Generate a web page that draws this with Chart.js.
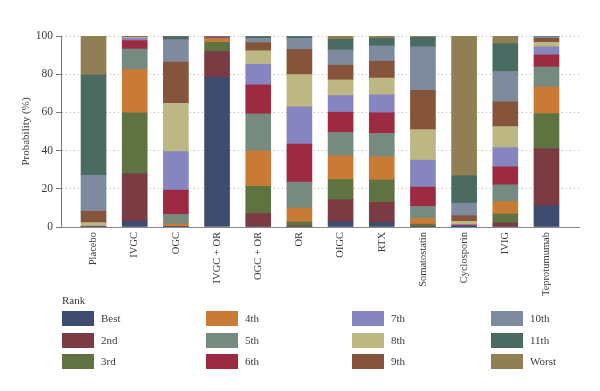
<!DOCTYPE html>
<html>
<head>
<meta charset="utf-8">
<script src="https://cdn.jsdelivr.net/npm/chart.js@4/dist/chart.umd.min.js"></script>
<style>
  body { margin: 0; background: #fff; }
  #wrap { position: relative; width: 600px; height: 391px; }
  #legend { position: absolute; left: 0; top: 0; width: 600px; height: 391px; pointer-events: none;
            font-family: "Liberation Serif", "DejaVu Serif", serif; font-size: 11px; color: #3a3a3a; }
  .title { position: absolute; left: 62px; top: 294px; }
  .item { position: absolute; height: 15px; line-height: 15px; white-space: nowrap; }
  .box { display: inline-block; width: 32px; height: 15px; vertical-align: top; margin-right: 7px; box-sizing: border-box; }
</style>
</head>
<body>
<div id="wrap">
  <canvas id="myChart" width="600" height="391"></canvas>
  <div id="legend"><div class="title">Rank</div></div>
</div>
<script>
const treatments = ["Placebo", "IVGC", "OGC", "IVGC + OR", "OGC + OR", "OR", "OIGC", "RTX",
  "Somatostatin", "Cyclosporin", "IVIG", "Teprotumumab"];
const ranks = ["Best", "2nd", "3rd", "4th", "5th", "6th", "7th", "8th", "9th", "10th", "11th", "Worst"];
const yTicks = [0, 20, 40, 60, 80, 100];

// probability (%) of each rank, one value per treatment
const best     = [0, 3, 0, 78.4, 0, 0, 2.8, 2.4, 0, 0.1, 0, 11.1];
const second   = [0, 24.9, 0, 13.4, 7.1, 0.5, 11.5, 10.5, 0.3, 0.2, 2.1, 29.8];
const third    = [0, 31.9, 0.2, 4.9, 14.2, 2.1, 10.6, 11.7, 1.2, 0, 4.7, 18.5];
const fourth   = [0, 22.6, 1.4, 1.9, 18.6, 7.3, 12.4, 12.2, 3.0, 0, 6.4, 13.9];
const fifth    = [0, 10.8, 5.0, 0.4, 19.3, 13.6, 12.2, 12.2, 6.3, 0, 8.9, 10.5];
const sixth    = [0, 4.4, 12.7, 0.5, 15.2, 19.9, 10.6, 10.8, 10.1, 0.5, 9.4, 6.3];
const seventh  = [0.5, 1.2, 20.2, 0.3, 10.8, 19.5, 8.7, 9.4, 14.1, 0.6, 10, 4.2];
const eighth   = [1.8, 0.5, 25.3, 0.1, 7.1, 16.9, 8.2, 8.8, 16.0, 1.6, 11.1, 2.4];
const ninth    = [5.9, 0.3, 21.6, 0.1, 4.2, 13.2, 7.7, 8.8, 20.6, 2.9, 12.9, 2.1];
const tenth    = [18.8, 0.2, 11.7, 0, 2.3, 5.8, 8.0, 8.0, 22.7, 6.6, 15.9, 0.9];
const eleventh = [52.6, 0.1, 1.6, 0, 0.9, 0.9, 5.6, 4.0, 5.0, 14.3, 14.6, 0.2];
const worst    = [20.4, 0.1, 0.3, 0, 0.3, 0.3, 1.7, 1.2, 0.7, 73.2, 4, 0.1];

const series = [best, second, third, fourth, fifth, sixth, seventh, eighth, ninth, tenth, eleventh, worst];
const colors = ['#3d4c6e', '#7b3b43', '#5f7241', '#c97b35', '#768a80', '#9c2a41',
  '#8785c0', '#bdb784', '#85543a', '#7e8b9f', '#4a6b62', '#8f7f52'];

const font = { family: '"Liberation Serif", "DejaVu Serif", serif', size: 11 };

const datasets = ranks.map((r, k) => ({
  label: r,
  data: series[k].map((v, i) => ({ x: i, y: v })),
  backgroundColor: colors[k],
  borderWidth: 0,
  barThickness: 25
}));

new Chart(document.getElementById("myChart"), {
  type: 'bar',
  data: { datasets },
  options: {
    responsive: false,
    animation: false,
    devicePixelRatio: 1,
    layout: { padding: { left: 5, right: 21, top: 36, bottom: 74 } },
    plugins: { legend: { display: false }, tooltip: { enabled: false } },
    scales: {
      x: {
        type: 'linear',
        stacked: true,
        offset: false,
        min: -0.79,
        max: 11.79,
        afterBuildTicks: axis => { axis.ticks = treatments.map((_, i) => ({ value: i })); },
        afterFit: axis => { axis.height = 90; },
        grid: { display: false },
        border: { display: true, color: '#888', width: 1 },
        ticks: {
          autoSkip: false,
          minRotation: 90,
          maxRotation: 90,
          padding: -3,
          color: '#3a3a3a',
          font: { ...font, size: 10.5 },
          callback: v => treatments[v]
        }
      },
      y: {
        stacked: true,
        min: 0,
        max: 100,
        afterBuildTicks: axis => { axis.ticks = yTicks.map(v => ({ value: v })); },
        afterFit: axis => { axis.width = 56; },
        grid: { color: '#b5b5b5', tickColor: '#777', tickLength: 5, lineWidth: 1 },
        border: { display: true, color: '#777', width: 1, dash: [1, 3] },
        ticks: { padding: 3, color: '#3a3a3a', font: { ...font, size: 11.5 } },
        title: { display: true, text: 'Probability (%)', color: '#3a3a3a', font, padding: { top: 15 } }
      }
    }
  }
});

// legend: four columns, three rows, filled column by column
const legend = document.getElementById('legend');
const colX = [62, 206, 352, 491];
const rowY = [311, 332.5, 354];
ranks.forEach((r, k) => {
  const el = document.createElement('div');
  el.className = 'item';
  el.style.left = colX[Math.floor(k / 3)] + 'px';
  el.style.top = rowY[k % 3] + 'px';
  el.innerHTML = '<span class="box" style="background:' + colors[k] + '"></span>' + r;
  legend.appendChild(el);
});
</script>
</body>
</html>
